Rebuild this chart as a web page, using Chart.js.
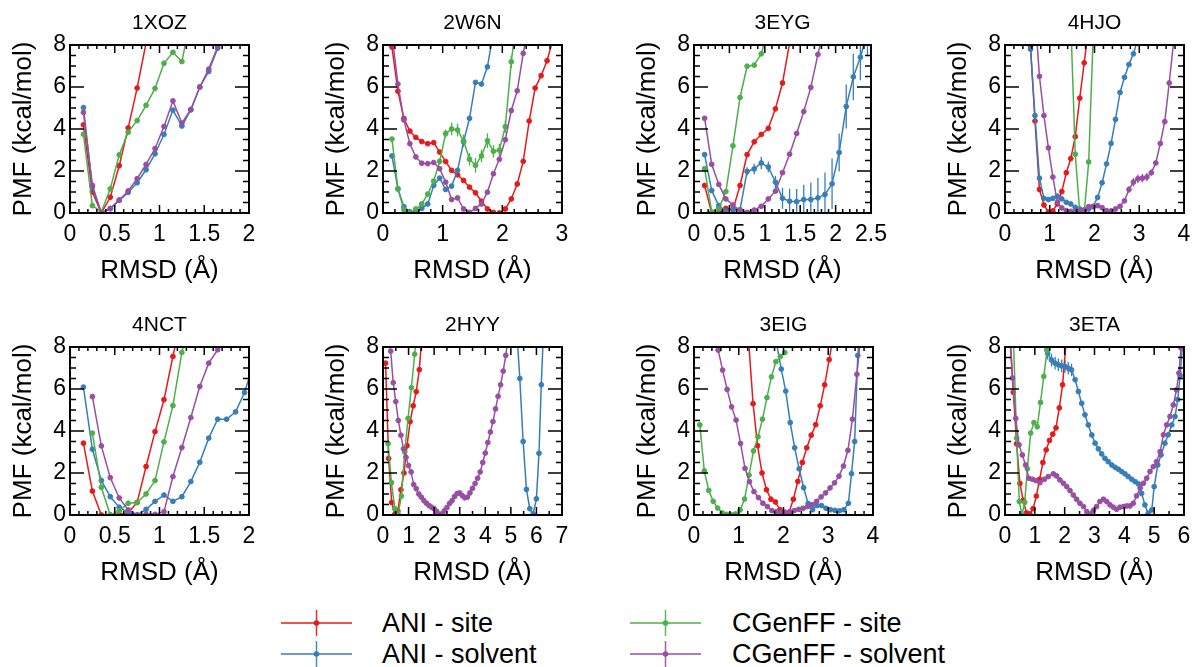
<!DOCTYPE html>
<html>
<head>
<meta charset="utf-8">
<script src="https://cdn.jsdelivr.net/npm/chart.js@4.4.0/dist/chart.umd.min.js"></script>
<style>
  body { margin: 0; background: #fff; width: 1194px; height: 667px; overflow: hidden; position: relative;
         font-family: "Liberation Sans", Arial, sans-serif; }
  canvas { position: absolute; }
  .leg { position: absolute; font-size: 27px; line-height: 30px; color: #000; white-space: nowrap; }
  .icon { position: absolute; }
</style>
</head>
<body>
<script>
// ---- data (RMSD in Å, PMF in kcal/mol) ----
const seriesNames = ['ANI - site', 'ANI - solvent', 'CGenFF - site', 'CGenFF - solvent'];

// 1XOZ
const xozX = [0.15,0.25,0.35,0.45,0.55,0.65,0.75,0.85,0.95,1.05,1.15,1.25,1.35,1.45,1.55,1.65,1.75];
const xozAniSite = [4.2,1.0,0.0,0.75,2.25,4.05,5.95,8.1];
const xozAniSolv = [5.02,1.24,0.0,0.2,0.6,0.98,1.44,2.06,2.82,3.74,4.9,4.14,4.91,5.99,6.74,7.85,9.0];
const xozCgSite = [3.75,0.35,0.05,1.15,2.77,3.85,4.4,5.13,5.93,7.13,7.65,7.21,9.3];
const xozCgSolv = [4.79,1.32,0.0,0.22,0.62,1.05,1.63,2.31,3.07,4.12,5.34,4.28,4.93,6.0,6.85,7.92,9.1];

// 2W6N
const w6nX = [0.15,0.25,0.35,0.45,0.55,0.65,0.75,0.85,0.95,1.05,1.15,1.25,1.35,1.45,1.55,1.65,1.75,1.85,1.95,2.05,2.15,2.25,2.35,2.45,2.55,2.65,2.75,2.85];
const w6nAniSite = [7.9,5.8,4.5,3.9,3.6,3.4,3.3,3.35,2.9,2.45,2.03,1.82,1.55,1.23,0.96,0.56,0.19,0.03,0.0,0.19,0.67,1.38,2.46,4.38,5.95,6.54,7.25,8.3];
const w6nAniSolv = [2.72,1.15,0.3,0.06,0.03,0.22,0.43,1.31,1.66,1.12,1.28,2.03,3.39,4.51,6.22,6.14,6.96,8.6];
const w6nCgSite = [3.52,1.15,0.16,0.0,0.19,0.43,0.9,1.52,2.46,3.78,4.0,3.95,3.44,2.56,2.27,2.72,3.44,2.94,2.99,4.11,7.2,9.5];
const w6nCgSiteErr = [0,0,0,0,0,0,0.1,0.1,0.15,0.2,0.3,0.3,0.3,0.3,0.35,0.3,0.35,0.3,0.3,0.3,0.3,0.3];
const w6nCgSolv = [8.5,6.14,4.43,3.3,2.67,2.37,2.35,2.4,2.11,1.47,0.64,0.72,0.19,0.03,0.22,0.43,0.99,1.87,2.56,3.49,4.88,5.82,7.6,9.2];

// 3EYG
const eygX = [0.15,0.25,0.35,0.45,0.55,0.65,0.75,0.85,0.95,1.05,1.15,1.25,1.35,1.45,1.55,1.65,1.75,1.85,1.95,2.05,2.15,2.25,2.35,2.45];
const eygAniSite = [1.31,0.0,0.0,0.22,0.16,1.31,2.78,3.39,3.74,4.03,4.96,6.19,8.1];
const eygAniSolv = [2.78,1.07,0.35,0.08,0.19,0.16,1.98,2.1,2.38,2.19,1.47,0.7,0.56,0.54,0.64,0.64,0.72,0.88,1.39,2.88,5.07,6.48,7.42,8.6];
const eygAniSolvErr = [0,0,0,0,0,0,0.2,0.25,0.3,0.25,0.3,0.5,0.6,0.6,0.7,0.8,0.95,1.05,1.2,0.9,1.05,1.1,1.1,1.1];
const eygCgSite = [2.11,0.05,0.2,1.02,3.2,5.5,6.99,7.04,7.58,8.8];
const eygCgSolv = [4.51,2.32,1.36,0.67,0.38,0.11,0.03,0.14,0.32,0.67,1.04,1.92,2.8,3.79,4.83,5.98,7.55,9.0];

// 4HJO
const hjoX = [0.57,0.67,0.77,0.87,0.97,1.07,1.17,1.27,1.37,1.47,1.57,1.67,1.77,1.87,1.97,2.07,2.17,2.27,2.37,2.47,2.57,2.67,2.77,2.87,2.97,3.07,3.17,3.27,3.37,3.47,3.57,3.67,3.77];
const hjoAniSite = [7.95,4.38,1.12,0.38,0.05,0.1,0.43,1.02,1.92,2.59,3.63,5.47,7.15,8.9];
const hjoAniSolv = [7.8,4.64,1.66,0.7,0.64,0.7,0.8,0.67,0.51,0.43,0.27,0.19,0.11,0.19,0.32,0.74,1.44,2.34,3.31,4.46,5.74,6.46,7.07,7.58,8.3];
const hjoCgSiteX = [1.47,1.57,1.67,1.77,1.87,1.97];
const hjoCgSite = [9.1,2.8,0.05,0.0,2.43,8.4];
const hjoCgSolv = [9.5,6.51,4.64,3.1,1.71,0.51,0.24,0.11,0.08,0.06,0.1,0.15,0.3,0.3,0.35,0.25,0.11,0.1,0.19,0.32,0.58,1.12,1.47,1.63,1.66,1.71,1.92,2.38,3.31,4.35,6.19,8.2];
const hjoCgSolvErr = [0,0,0,0,0,0,0,0,0,0,0,0,0,0,0,0,0,0,0,0,0,0.15,0.2,0.2,0.2,0.2,0.15,0.1,0.1,0.1,0.1,0.1];

// 4NCT
const nctX = [0.15,0.25,0.35,0.45,0.55,0.65,0.75,0.85,0.95,1.05,1.15,1.25,1.35,1.45,1.55,1.65,1.75,1.85,1.95,2.05];
const nctAniSite = [3.42,1.14,0.0,0.0,0.03,0.11,0.6,2.31,3.97,5.49,7.55,9.5];
const nctAniSolv = [6.09,3.13,1.64,0.87,0.37,0.11,0.0,0.27,0.65,0.95,0.65,0.87,1.59,2.51,3.66,4.56,4.56,4.91,5.83,7.2];
const nctCgSite = [3.9,1.32,0.0,0.2,0.56,0.59,1.0,1.64,3.48,5.21,7.74,9.6];
const nctCgSolv = [5.64,3.29,1.78,0.81,0.24,0.0,0.03,0.03,0.16,1.83,3.21,4.64,6.12,7.23,7.87,8.6];

// 2HYY
const hyyAniSiteX = [0.10,0.22,0.34,0.46,0.58,0.70,0.82,0.94,1.06,1.18,1.30,1.42,1.54];
const hyyAniSite = [7.23,2.69,0.6,0.03,0.2,1.2,2.0,3.3,4.45,5.2,5.87,6.92,8.9];
const hyyAniSolvX = [5.22,5.35,5.48,5.61,5.74,5.87,6.0,6.1,6.19,6.3];
const hyyAniSolv = [9.0,6.5,3.5,1.22,0.3,0.05,0.77,2.94,6.2,9.5];
const hyyCgSiteX = [0.2,0.33,0.46,0.59,0.72,0.85,0.98,1.11,1.24,1.37];
const hyyCgSite = [3.4,1.54,0.3,0.05,0.9,3.0,4.6,6.06,7.66,9.5];
const hyyCgSolvX = [0.2,0.3,0.4,0.5,0.6,0.7,0.8,0.9,1.0,1.1,1.2,1.3,1.4,1.5,1.6,1.7,1.8,1.9,2.0,2.1,2.2,2.3,2.4,2.5,2.6,2.7,2.8,2.9,3.0,3.1,3.2,3.3,3.4,3.5,3.6,3.7,3.8,3.9,4.0,4.1,4.2,4.3,4.4,4.5,4.6,4.7,4.8,4.9];
const hyyCgSolv = [9.0,7.8,6.3,5.4,4.5,3.8,3.15,2.75,2.35,2.05,1.45,1.25,1.0,0.85,0.68,0.56,0.45,0.37,0.3,0.17,0.03,0.05,0.2,0.35,0.55,0.68,0.88,1.02,1.05,0.92,0.82,0.85,1.05,1.27,1.5,1.75,2.05,2.5,2.95,3.45,3.95,4.45,5.05,5.65,6.2,6.85,7.6,8.5];

// 3EIG
const eigAniSiteX = [1.22,1.32,1.42,1.52,1.62,1.72,1.82,1.92,2.02,2.12,2.22,2.32,2.42,2.52,2.62,2.72,2.82,2.92,3.02,3.12];
const eigAniSite = [8.3,5.3,3.3,2.0,1.2,0.75,0.62,0.25,0.05,0.1,0.75,1.6,2.5,3.2,3.8,4.3,5.2,6.2,7.4,8.6];
const eigAniSolvX = [1.85,1.95,2.05,2.15,2.25,2.35,2.45,2.55,2.65,2.75,2.85,2.95,3.05,3.15,3.25,3.35,3.45,3.52,3.59,3.66,3.73];
const eigAniSolv = [8.1,6.95,5.9,4.4,3.2,2.2,1.3,0.55,0.25,0.45,0.45,0.32,0.25,0.22,0.2,0.25,0.56,1.97,3.5,7.6,9.5];
const eigCgSiteX = [0.13,0.23,0.33,0.43,0.53,0.63,0.73,0.83,0.93,1.03,1.13,1.23,1.33,1.43,1.53,1.63,1.73,1.83,1.93,2.03];
const eigCgSite = [4.29,2.1,1.17,0.65,0.33,0.1,0.03,0.02,0.05,0.24,0.76,1.9,3.05,3.72,4.56,5.59,6.58,7.3,7.55,7.74];
const eigCgSolvX = [0.44,0.54,0.64,0.74,0.84,0.94,1.04,1.14,1.24,1.34,1.44,1.54,1.64,1.74,1.84,1.94,2.04,2.14,2.24,2.34,2.44,2.54,2.64,2.74,2.84,2.94,3.04,3.14,3.24,3.34,3.44,3.54,3.64,3.74];
const eigCgSolv = [8.9,7.85,6.9,5.98,5.15,4.52,3.41,2.22,1.59,1.11,0.83,0.56,0.4,0.21,0.16,0.13,0.13,0.16,0.21,0.27,0.32,0.4,0.49,0.65,0.86,1.05,1.29,1.53,1.85,2.33,3.08,4.56,6.7,8.8];

// 3ETA
const etaAniSiteX = [0.17,0.28,0.39,0.5,0.61,0.72,0.83,0.94,1.05,1.16,1.27,1.38,1.49,1.6,1.71,1.82,1.93,2.04];
const etaAniSite = [8.6,5.84,3.39,1.5,0.7,0.1,0.05,0.3,0.9,1.7,2.5,3.1,3.55,3.85,4.15,5.1,6.2,8.1];
const etaAniSolvX = [1.34,1.43,1.56,1.68,1.79,1.9,2.01,2.12,2.23,2.35,2.46,2.57,2.68,2.79,2.91,3.02,3.13,3.24,3.35,3.46,3.58,3.69,3.8,3.91,4.02,4.13,4.25,4.36,4.47,4.58,4.69,4.8,4.92,5.0,5.12,5.23,5.36,5.47,5.59,5.7,5.79,5.87,5.95];
const etaAniSolv = [8.1,7.7,7.38,7.23,7.15,7.1,7.07,6.99,6.91,6.44,5.88,5.32,4.77,4.29,3.81,3.42,3.15,2.91,2.7,2.54,2.38,2.27,2.18,2.07,1.96,1.83,1.7,1.59,1.48,1.03,0.48,0.08,0.24,1.35,2.38,2.86,3.42,3.82,4.29,4.69,5.5,6.63,8.1];
const etaAniSolvErr = [0.3,0.3,0.3,0.3,0.3,0.3,0.3,0.3,0.3,0,0,0,0,0,0,0,0,0,0,0,0,0,0,0,0,0,0,0,0,0,0,0,0,0,0,0,0,0,0,0,0,0,0];
const etaCgSiteX = [0.28,0.39,0.48,0.57,0.66,0.75,0.86,0.97,1.08,1.19,1.3,1.41,1.52];
const etaCgSite = [8.5,3.66,0.64,0.0,0.6,2.2,3.9,4.4,4.2,5.36,6.6,7.85,9.0];
const etaCgSolvX = [0.14,0.25,0.36,0.47,0.58,0.69,0.8,0.92,1.03,1.17,1.32,1.45,1.62,1.73,1.84,1.96,2.07,2.18,2.29,2.4,2.51,2.63,2.74,2.85,2.96,3.07,3.18,3.3,3.41,3.52,3.63,3.74,3.85,3.97,4.08,4.19,4.3,4.41,4.53,4.64,4.75,4.86,4.97,5.08,5.2,5.31,5.42,5.53,5.64,5.75,5.83,5.9,6.0];
const etaCgSolv = [9.0,6.52,4.6,3.34,2.86,2.38,1.75,1.7,1.64,1.54,1.7,1.83,1.96,1.86,1.67,1.51,1.35,1.16,0.95,0.75,0.56,0.4,0.16,0.05,0.21,0.4,0.64,0.75,0.64,0.48,0.37,0.27,0.37,0.4,0.43,0.43,0.56,0.91,1.28,1.51,1.75,2.07,2.3,2.54,3.02,3.82,4.29,4.69,5.24,5.96,6.76,7.95,9.2];

// ---- styling / layout ----
const FONT = '"Liberation Sans", Arial, sans-serif';
const colors = ['#e41a1c', '#377eb8', '#4daf4a', '#984ea3'];
const PW = 179, PH = 168, YAX = 70, TITLEH = 42, XAXH = 75, RPAD = 22;

// series order per panel: ANI site, ANI solvent, CGenFF site, CGenFF solvent
const panels = [
  { name: '1XOZ', left: 70,   top: 45,  xMax: 2,   xStep: 0.5, xSub: 5,
    series: [[xozX, xozAniSite], [xozX, xozAniSolv], [xozX, xozCgSite], [xozX, xozCgSolv]] },
  { name: '2W6N', left: 383,  top: 45,  xMax: 3,   xStep: 1,   xSub: 5,
    series: [[w6nX, w6nAniSite], [w6nX, w6nAniSolv], [w6nX, w6nCgSite, w6nCgSiteErr], [w6nX, w6nCgSolv]] },
  { name: '3EYG', left: 694,  top: 45,  xMax: 2.5, xStep: 0.5, xSub: 5,
    series: [[eygX, eygAniSite], [eygX, eygAniSolv, eygAniSolvErr], [eygX, eygCgSite], [eygX, eygCgSolv]] },
  { name: '4HJO', left: 1005, top: 45,  xMax: 4,   xStep: 1,   xSub: 5,
    series: [[hjoX, hjoAniSite], [hjoX, hjoAniSolv], [hjoCgSiteX, hjoCgSite], [hjoX.slice(1), hjoCgSolv, hjoCgSolvErr]] },
  { name: '4NCT', left: 70,   top: 347, xMax: 2,   xStep: 0.5, xSub: 5,
    series: [[nctX, nctAniSite], [nctX, nctAniSolv], [nctX.slice(1), nctCgSite], [nctX.slice(1), nctCgSolv]] },
  { name: '2HYY', left: 383,  top: 347, xMax: 7,   xStep: 1,   xSub: 2,
    series: [[hyyAniSiteX, hyyAniSite], [hyyAniSolvX, hyyAniSolv], [hyyCgSiteX, hyyCgSite], [hyyCgSolvX, hyyCgSolv]] },
  { name: '3EIG', left: 694,  top: 347, xMax: 4,   xStep: 1,   xSub: 5,
    series: [[eigAniSiteX, eigAniSite], [eigAniSolvX, eigAniSolv], [eigCgSiteX, eigCgSite], [eigCgSolvX, eigCgSolv]] },
  { name: '3ETA', left: 1005, top: 347, xMax: 6,   xStep: 1,   xSub: 2,
    series: [[etaAniSiteX, etaAniSite], [etaAniSolvX, etaAniSolv, etaAniSolvErr], [etaCgSiteX, etaCgSite], [etaCgSolvX, etaCgSolv]] },
];

// error bars, inner tick marks and the box around each plot
const frame = {
  id: 'frame',
  beforeDatasetsDraw(chart) {
    const {ctx, chartArea: a, scales: {x, y}} = chart;
    ctx.save();
    ctx.beginPath();
    ctx.rect(a.left, a.top, a.width, a.height);
    ctx.clip();
    ctx.lineWidth = 1.3;
    chart.data.datasets.forEach(ds => {
      if (!ds.errors) return;
      ctx.strokeStyle = ds.borderColor;
      ds.data.forEach((p, i) => {
        const e = ds.errors[i];
        if (!e) return;
        const px = x.getPixelForValue(p.x);
        ctx.beginPath();
        ctx.moveTo(px, y.getPixelForValue(p.y - e));
        ctx.lineTo(px, y.getPixelForValue(p.y + e));
        ctx.stroke();
      });
    });
    ctx.restore();
  },
  afterDraw(chart, args, opts) {
    const {ctx, chartArea: a, scales: {x, y}} = chart;
    ctx.save();
    ctx.strokeStyle = '#000';
    ctx.lineWidth = 1.5;
    const xd = x.options.ticks.stepSize / opts.xSub;
    for (let k = 0; k * xd <= x.max + 1e-9; k++) {
      const px = x.getPixelForValue(k * xd);
      const len = k % opts.xSub === 0 ? 8 : 4;
      ctx.beginPath();
      ctx.moveTo(px, a.bottom); ctx.lineTo(px, a.bottom - len);
      ctx.moveTo(px, a.top); ctx.lineTo(px, a.top + len);
      ctx.stroke();
    }
    for (let k = 0; k * 0.5 <= 8 + 1e-9; k++) {
      const py = y.getPixelForValue(k * 0.5);
      const len = k % 4 === 0 ? 14 : 6;
      ctx.beginPath();
      ctx.moveTo(a.left, py); ctx.lineTo(a.left + len, py);
      ctx.moveTo(a.right, py); ctx.lineTo(a.right - len, py);
      ctx.stroke();
    }
    ctx.lineWidth = 2;
    ctx.strokeRect(a.left, a.top, a.width, a.height);
    ctx.restore();
  }
};

const plainNum = v => String(+v.toFixed(2));

panels.forEach(p => {
  const cv = document.createElement('canvas');
  cv.width = YAX + PW + RPAD;
  cv.height = TITLEH + PH + XAXH;
  cv.style.left = (p.left - YAX) + 'px';
  cv.style.top = (p.top - TITLEH) + 'px';
  document.body.appendChild(cv);

  const datasets = p.series.map(([xs, ys, err], i) => ({
    label: seriesNames[i],
    data: ys.map((v, j) => ({x: xs[j], y: v})),
    errors: err,
    showLine: true,
    borderColor: colors[i],
    backgroundColor: colors[i],
    borderWidth: 1.5,
    pointRadius: 2.4,
    pointBorderWidth: 1,
    clip: 1
  })).reverse(); // first dataset is drawn on top in Chart.js

  new Chart(cv, {
    type: 'scatter',
    data: { datasets },
    options: {
      responsive: false,
      animation: false,
      devicePixelRatio: 1,
      events: [],
      layout: { padding: { left: 0, top: 0, right: RPAD, bottom: 0 } },
      plugins: {
        legend: { display: false },
        tooltip: { enabled: false },
        title: {
          display: true, text: p.name, fullSize: false, color: '#000',
          font: { family: FONT, size: 21, weight: 'normal', lineHeight: 1.2 },
          padding: { top: 8, bottom: 8.8 }
        },
        frame: { xSub: p.xSub }
      },
      scales: {
        x: {
          type: 'linear', min: 0, max: p.xMax,
          grid: { display: false, drawTicks: false },
          border: { display: false },
          ticks: { stepSize: p.xStep, color: '#000', padding: 8, maxRotation: 0, autoSkip: false,
                   font: { family: FONT, size: 23 }, callback: plainNum },
          title: { display: true, text: 'RMSD (Å)', color: '#000',
                   font: { family: FONT, size: 26 }, padding: { top: 0, bottom: 2 } },
          afterFit: s => { s.height = XAXH; }
        },
        y: {
          type: 'linear', min: 0, max: 8,
          grid: { display: false, drawTicks: false },
          border: { display: false },
          ticks: { stepSize: 2, color: '#000', padding: 4, font: { family: FONT, size: 23 },
                   callback: plainNum },
          title: { display: true, text: 'PMF (kcal/mol)', color: '#000',
                   font: { family: FONT, size: 26 }, padding: { top: 8, bottom: 0 } },
          afterFit: s => { s.width = YAX; }
        }
      }
    },
    plugins: [frame]
  });
});

// legend below the panels
seriesNames.forEach((name, i) => {
  const col = Math.floor(i / 2), row = i % 2;
  const cy = 623 + row * 31;
  const lx = col ? 630 : 281;
  const tx = col ? 732 : 382;
  const ns = 'http://www.w3.org/2000/svg';
  const svg = document.createElementNS(ns, 'svg');
  svg.setAttribute('width', 71); svg.setAttribute('height', 30);
  svg.setAttribute('class', 'icon');
  svg.style.left = lx + 'px'; svg.style.top = (cy - 15) + 'px';
  svg.innerHTML =
    `<line x1="0" y1="15" x2="71" y2="15" stroke="${colors[i]}" stroke-opacity="0.75" stroke-width="2.2"/>` +
    `<line x1="35.5" y1="2" x2="35.5" y2="28" stroke="${colors[i]}" stroke-opacity="0.9" stroke-width="1.5"/>` +
    `<circle cx="35.5" cy="15" r="2.8" fill="${colors[i]}"/>`;
  document.body.appendChild(svg);
  const t = document.createElement('div');
  t.className = 'leg';
  t.textContent = name;
  t.style.left = tx + 'px';
  t.style.top = (cy - 15) + 'px';
  document.body.appendChild(t);
});
</script>
</body>
</html>
